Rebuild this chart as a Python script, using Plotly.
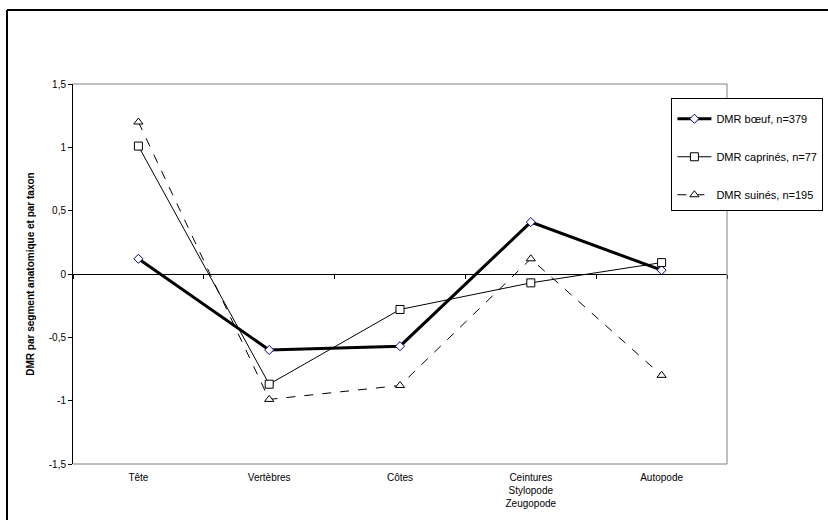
import plotly.graph_objects as go

categories = ["Tête", "Vertèbres", "Côtes", "Ceintures<br>Stylopode<br>Zeugopode", "Autopode"]
boeuf = [0.12, -0.60, -0.57, 0.41, 0.03]
caprines = [1.01, -0.87, -0.28, -0.07, 0.09]
suines = [1.20, -0.99, -0.88, 0.12, -0.80]
yticks = [-1.5, -1, -0.5, 0, 0.5, 1, 1.5]
yticklabels = ["-1,5", "-1", "-0,5", "0", "0,5", "1", "1,5"]

FONT = "Liberation Sans, Arial, sans-serif"

fig = go.Figure()
fig.add_trace(go.Scatter(
    x=categories, y=boeuf, name="DMR bœuf, n=379", mode="lines+markers",
    line=dict(color="black", width=3),
    marker=dict(symbol="diamond", size=7, color="white", line=dict(color="#000080", width=1)),
    legendgroup="a"))
fig.add_trace(go.Scatter(
    x=categories, y=caprines, name="DMR caprinés, n=77", mode="lines+markers",
    line=dict(color="black", width=1),
    marker=dict(symbol="square", size=8, color="white", line=dict(color="black", width=1)),
    legendgroup="b"))
fig.add_trace(go.Scatter(
    x=categories, y=suines, name="DMR suinés, n=195", mode="lines+markers",
    line=dict(color="black", width=1, dash="dash"),
    marker=dict(symbol="triangle-up", size=8, color="white", line=dict(color="black", width=1)),
    legendgroup="c"))
# invisible trace to carry the zero-line axis
fig.add_trace(go.Scatter(x=categories, y=[0]*5, xaxis="x2", mode="lines",
                         line=dict(width=0), opacity=0, showlegend=False, hoverinfo="skip"))

fig.update_layout(
    width=828, height=520,
    margin=dict(l=73, r=101, t=84, b=56, autoexpand=False),
    paper_bgcolor="white", plot_bgcolor="white",
    font=dict(family=FONT, size=10, color="black"),
    showlegend=True,
    legend=dict(x=0.915, y=0.963, xanchor="left", yanchor="top",
                bordercolor="black", borderwidth=1, bgcolor="white",
                font=dict(size=11, family=FONT), tracegroupgap=19,
                itemwidth=34,
                title=dict(text=" ", font=dict(size=4))),
    xaxis=dict(type="category", showgrid=False, zeroline=False, showline=False,
               ticks="", ticklabelstandoff=6, tickfont=dict(size=10),
               range=[-0.5, 4.5]),
    xaxis2=dict(type="category", overlaying="x", anchor="free", position=0.5,
                matches="x", showgrid=False, zeroline=False, showline=True,
                linecolor="black", linewidth=1, ticks="outside", ticklen=4,
                tickcolor="black", tickson="boundaries", showticklabels=False,
                side="bottom"),
    yaxis=dict(range=[-1.5, 1.5], tickvals=yticks, ticktext=yticklabels,
               showgrid=False, zeroline=False, showline=True, linecolor="black",
               linewidth=1, ticks="outside", ticklen=4, tickcolor="black",
               tickfont=dict(size=10),
               title=dict(text="<b>DMR par segment anatomique et par taxon</b>",
                          font=dict(size=10), standoff=12)),
    shapes=[
        dict(type="line", xref="paper", yref="paper", x0=0, x1=1, y0=1, y1=1,
             line=dict(color="#808080", width=1)),
        dict(type="line", xref="paper", yref="paper", x0=1, x1=1, y0=0, y1=1,
             line=dict(color="#808080", width=1)),
        dict(type="line", xref="paper", yref="paper", x0=0, x1=1, y0=0, y1=0,
             line=dict(color="#808080", width=1)),
        # outer frame (left and top edges)
        dict(type="line", xref="paper", yref="paper",
             x0=-66/654, x1=-66/654, y0=-56/380, y1=(464-10)/380,
             line=dict(color="black", width=2)),
        dict(type="line", xref="paper", yref="paper",
             x0=-66/654, x1=755/654, y0=(464-10)/380, y1=(464-10)/380,
             line=dict(color="black", width=2)),
    ],
)

fig.write_html("out.html", config={"displayModeBar": False},
               post_script="document.body.style.margin='0';")
